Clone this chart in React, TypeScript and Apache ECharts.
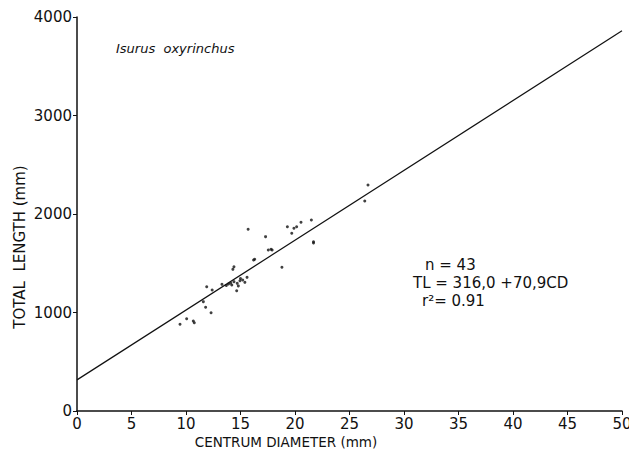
import React, { useEffect, useRef } from "react";
import * as echarts from "echarts";

const centrumDiameter = [
  9.45, 10.06, 10.67, 10.76, 11.59, 11.8, 12.3, 11.9, 12.4, 13.3,
  13.9, 14.2, 14.4, 14.7, 14.95, 15.2, 15.4, 15.6, 14.65, 14.3,
  14.4, 15.7, 16.2, 16.3, 17.3, 17.55, 17.8, 17.9, 18.8, 19.3,
  19.7, 19.9, 20.15, 20.55, 21.5, 21.7, 21.7, 26.4, 26.7, 14.1,
  14.8, 15.0, 13.7,
];
const totalLength = [
  880, 937, 914, 896, 1110, 1053, 998, 1262, 1228, 1286,
  1289, 1279, 1313, 1296, 1323, 1330, 1306, 1357, 1221, 1438,
  1465, 1845, 1533, 1540, 1770, 1635, 1642, 1635, 1459, 1871,
  1804, 1855, 1871, 1916, 1939, 1719, 1706, 2132, 2294, 1300,
  1270, 1345, 1275,
];
const intercept = 316.0;
const slope = 70.9;
const lineX = [0, 50];
const xTicks = [0, 5, 10, 15, 20, 25, 30, 35, 40, 45, 50];
const yTicks = [0, 1000, 2000, 3000, 4000];
const annotation = ["n = 43", "TL = 316,0 +70,9CD", "r\u00b2= 0.91"];

const FONT = "DejaVu Sans";

export default function App() {
  const ref = useRef<HTMLDivElement>(null);
  useEffect(() => {
    if (!ref.current) return;
    const chart = echarts.init(ref.current, null, { renderer: "svg" });
    const scatter = centrumDiameter.map((x, i) => [x, totalLength[i]]);
    const line = lineX.map((x) => [x, intercept + slope * x]);
    chart.setOption({
      animation: false,
      backgroundColor: "#ffffff",
      grid: { left: 77, top: 17, right: 15, bottom: 47, containLabel: false },
      xAxis: {
        type: "value",
        min: xTicks[0],
        max: xTicks[xTicks.length - 1],
        interval: 5,
        axisLine: { lineStyle: { color: "#111", width: 1.5 } },
        axisTick: { show: true, length: 4, lineStyle: { color: "#111" } },
        axisLabel: {
          color: "#111",
          fontFamily: FONT,
          fontSize: 15,
          margin: 5,
          formatter: (v: number) => String(v),
        },
        splitLine: { show: false },
      },
      yAxis: {
        type: "value",
        min: yTicks[0],
        max: yTicks[yTicks.length - 1],
        interval: 1000,
        axisLine: { show: true, lineStyle: { color: "#111", width: 1.5 } },
        axisTick: { show: true, length: 4, lineStyle: { color: "#111" } },
        axisLabel: {
          color: "#111",
          fontFamily: FONT,
          fontSize: 15,
          margin: 5,
          formatter: (v: number) => String(v),
        },
        splitLine: { show: false },
      },
      series: [
        {
          type: "line",
          data: line,
          showSymbol: false,
          lineStyle: { color: "#111", width: 1.2 },
          silent: true,
        },
        {
          type: "scatter",
          data: scatter,
          symbol: "circle",
          symbolSize: 3,
          itemStyle: { color: "#111" },
        },
      ],
      graphic: [
        {
          type: "text",
          left: 116,
          top: 42,
          style: {
            text: "Isurus  oxyrinchus",
            fontFamily: FONT,
            fontStyle: "italic",
            fontSize: 13,
            fill: "#111",
          },
        },
        {
          type: "text",
          x: 286,
          y: 442,
          style: {
            text: "CENTRUM DIAMETER (mm)",
            fontFamily: FONT,
            fontSize: 13.5,
            fill: "#111",
            align: "center",
            verticalAlign: "middle",
          },
        },
        {
          type: "text",
          x: 20,
          y: 247,
          rotation: Math.PI / 2,
          style: {
            text: "TOTAL  LENGTH (mm)",
            fontFamily: FONT,
            fontSize: 15,
            fill: "#111",
            align: "center",
            verticalAlign: "middle",
          },
        },
        {
          type: "text",
          x: 425,
          y: 265,
          style: { text: annotation[0], fontFamily: FONT, fontSize: 15, fill: "#111", verticalAlign: "middle" },
        },
        {
          type: "text",
          x: 413,
          y: 283,
          style: { text: annotation[1], fontFamily: FONT, fontSize: 15, fill: "#111", verticalAlign: "middle" },
        },
        {
          type: "text",
          x: 422,
          y: 301,
          style: { text: annotation[2], fontFamily: FONT, fontSize: 15, fill: "#111", verticalAlign: "middle" },
        },
      ],
    });
    return () => chart.dispose();
  }, []);
  return <div ref={ref} style={{ width: 637, height: 458, margin: -8 }} />;
}
